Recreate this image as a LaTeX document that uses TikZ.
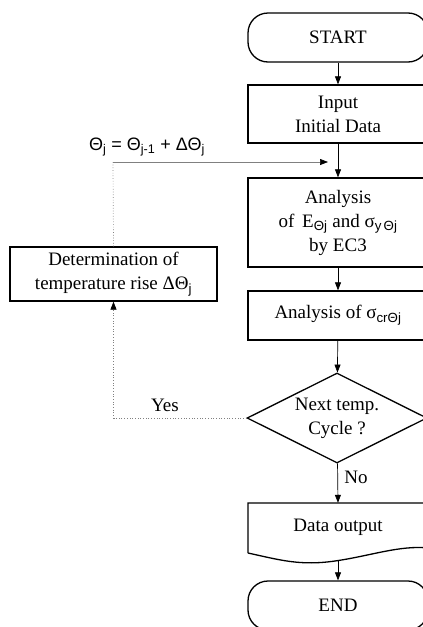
\documentclass[tikz,border=0pt]{standalone}
\usepackage{fontspec}
\setmainfont{Liberation Serif}
\newfontfamily\arialf{Liberation Sans}
\usetikzlibrary{shapes.geometric,arrows.meta}
\newcommand{\thsub}[1]{\textsubscript{\arialf #1}}
\begin{document}
\begin{tikzpicture}[x=1pt,y=-1pt,
  font=\fontsize{19}{24}\selectfont,
  box/.style={draw, line width=1.3pt, minimum width=180pt, align=center, inner sep=0pt},
  term/.style={box, rounded corners=20pt},
  conn/.style={line width=0.7pt, -{Triangle[width=6pt,length=8pt]}},
  dotl/.style={gray, line width=0.7pt, dotted}]
\useasboundingbox (0,0) rectangle (423,627);

\node[term, minimum height=49pt] (start) at (338,37.5) {START};
\node[box, minimum height=58pt] (input) at (338,114) {Input\\Initial Data};
\node[box, minimum height=89pt] (anal) at (338,222.5)
  {Analysis\\of\, E\thsub{Θj} and σ\thsub{y\,Θj}\\by EC3};
\node[box, minimum height=49pt] (sigma) at (338,315.5) {Analysis of σ\thsub{crΘj}};
\node[draw, diamond, line width=1.3pt, minimum width=180pt, minimum height=90pt,
  shape aspect=2, inner sep=0pt, align=center] (dia) at (337,418)
  {Next temp.\\Cycle ?};
\node[align=center, minimum width=180pt, minimum height=48pt, inner sep=0pt] (out) at (338,527) {Data output};
\draw[line width=1.3pt] (248,553) -- (248,503) -- (428,503) -- (428,548)
  .. controls (400,545) and (370,556) .. (335,561)
  .. controls (300,566) and (280,560) .. (248,553);
\coordinate (outb) at (338,561);
\node[term, minimum height=49pt] (end) at (338,605.5) {END};

\node[box, minimum width=207pt, minimum height=54pt] (det) at (113.5,274)
  {Determination of\\temperature rise ΔΘ\thsub{j}};

\node[font={\arialf\fontsize{18}{22}\selectfont}, anchor=base] (form) at (147,150)
  {Θ\textsubscript{j} = Θ\textsubscript{j-1} + ΔΘ\textsubscript{j}};

\coordinate (fs) at (113,162);
\coordinate (fe) at (328,162);

\draw[conn] (start) -- (input);
\draw[conn] (input) -- (anal);
\draw[conn] (anal) -- (sigma);
\draw[conn] (sigma) -- (dia);
\draw[conn] (dia) -- (out.north);
\draw[conn] (outb) -- (end);
\draw[gray, line width=0.7pt, -{Triangle[width=6pt,length=8pt,color=black]}] (fs) -- (fe);
\draw[dotl] (det.north) -- (fs);
\draw[dotl, -{Triangle[width=6pt,length=8pt,color=black]}] (dia.west) -| (det.south);

\node at (165,405) {Yes};
\node at (356,477) {No};
\end{tikzpicture}
\end{document}
